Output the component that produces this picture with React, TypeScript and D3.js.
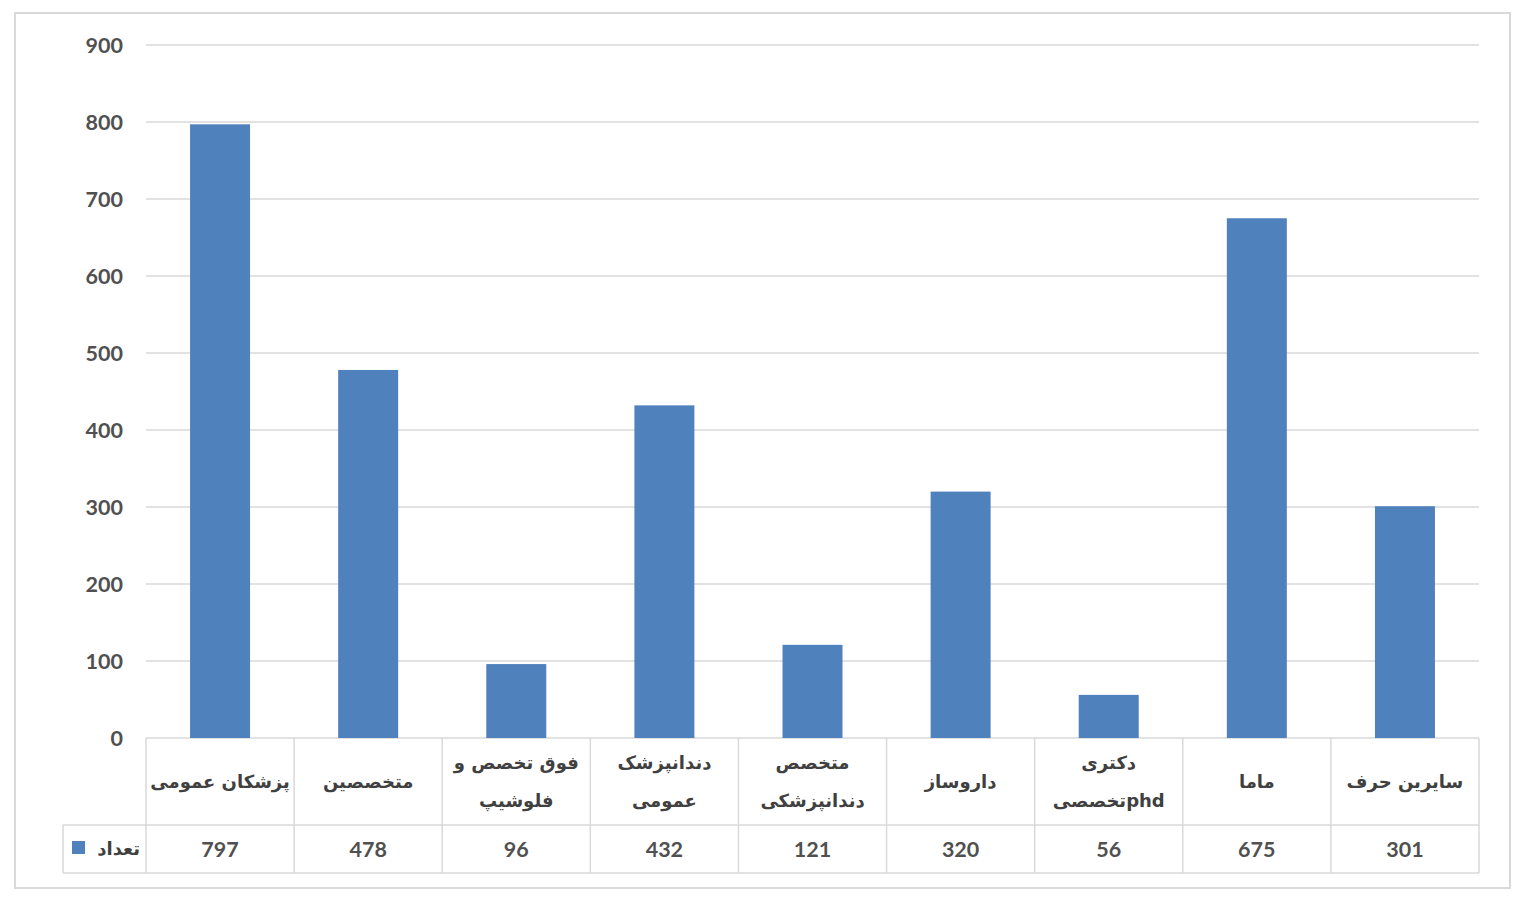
import { useRef, useEffect } from "react";
import * as d3 from "d3";

const categories = [
  "پزشکان عمومی",
  "متخصصین",
  "فوق تخصص و|فلوشیپ",
  "دندانپزشک|عمومی",
  "متخصص|دندانپزشکی",
  "داروساز",
  "دکتری|phdتخصصی",
  "ماما",
  "سایرین حرف",
];
const values = [797, 478, 96, 432, 121, 320, 56, 675, 301];
const yTicks = [0, 100, 200, 300, 400, 500, 600, 700, 800, 900];
const seriesName = "تعداد";

export default function App() {
  const ref = useRef<SVGSVGElement | null>(null);

  useEffect(() => {
    const svg = d3.select(ref.current);
    svg.selectAll("*").remove();

    const width = 1521;
    const height = 903;
    const plot = { left: 146, right: 1479, top: 45, bottom: 738 };
    const labelRowBottom = 825;
    const tableBottom = 873;
    const legendLeft = 63;
    const gridColor = "#d9d9d9";
    const textColor = "#505050";
    const barColor = "#4f81bd";
    const font = "Lato, 'DejaVu Sans', sans-serif";

    svg.append("rect").attr("width", width).attr("height", height).attr("fill", "#fff");

    // outer border
    svg
      .append("rect")
      .attr("x", 15)
      .attr("y", 13)
      .attr("width", 1495)
      .attr("height", 875)
      .attr("fill", "none")
      .attr("stroke", gridColor)
      .attr("stroke-width", 2);

    const x = d3
      .scaleBand<string>()
      .domain(categories)
      .range([plot.left, plot.right])
      .padding(0);

    const y = d3
      .scaleLinear()
      .domain([0, 900])
      .range([plot.bottom, plot.top]);

    // gridlines
    svg
      .append("g")
      .selectAll("line")
      .data(yTicks)
      .join("line")
      .attr("x1", plot.left)
      .attr("x2", plot.right)
      .attr("y1", (d) => y(d))
      .attr("y2", (d) => y(d))
      .attr("stroke", gridColor)
      .attr("stroke-width", 1.5);

    // y tick labels
    svg
      .append("g")
      .selectAll("text")
      .data(yTicks)
      .join("text")
      .attr("x", 123)
      .attr("y", (d) => y(d))
      .attr("dy", "0.35em")
      .attr("text-anchor", "end")
      .attr("font-family", font)
      .attr("font-weight", "bold")
      .attr("font-size", 21.5)
      .attr("fill", textColor)
      .text((d) => d);

    // bars
    const bw = x.bandwidth();
    const barW = bw * 0.405;
    svg
      .append("g")
      .selectAll("rect")
      .data(values)
      .join("rect")
      .attr("x", (_, i) => x(categories[i])! + (bw - barW) / 2)
      .attr("y", (d) => y(d))
      .attr("width", barW)
      .attr("height", (d) => y(0) - y(d))
      .attr("fill", barColor);

    // data table grid
    const table = svg.append("g").attr("stroke", gridColor).attr("stroke-width", 1.5);
    table
      .append("line")
      .attr("x1", legendLeft)
      .attr("x2", plot.right)
      .attr("y1", labelRowBottom)
      .attr("y2", labelRowBottom);
    table
      .append("line")
      .attr("x1", legendLeft)
      .attr("x2", plot.right)
      .attr("y1", tableBottom)
      .attr("y2", tableBottom);
    table
      .append("line")
      .attr("x1", legendLeft)
      .attr("x2", legendLeft)
      .attr("y1", labelRowBottom)
      .attr("y2", tableBottom);
    const edges = [...categories.map((c) => x(c)!), plot.right];
    table
      .selectAll("line.v")
      .data(edges)
      .join("line")
      .attr("class", "v")
      .attr("x1", (d) => d)
      .attr("x2", (d) => d)
      .attr("y1", plot.bottom)
      .attr("y2", tableBottom);

    // category labels
    const labelMid = (plot.bottom + labelRowBottom) / 2;
    const lab = svg
      .append("g")
      .selectAll("text")
      .data(categories)
      .join("text")
      .attr("x", (d) => x(d)! + bw / 2)
      .attr("text-anchor", "middle")
      .attr("direction", "rtl")
      .attr("font-family", "'DejaVu Sans', sans-serif")
      .attr("font-weight", "bold")
      .attr("font-size", 18)
      .attr("fill", "#404040");
    lab.each(function (d) {
      const lines = d.split("|");
      const t = d3.select(this);
      const cx = x(d)! + bw / 2;
      lines.forEach((ln, j) => {
        t.append("tspan")
          .attr("x", cx)
          .attr("y", labelMid + (j - (lines.length - 1) / 2) * 38)
          .attr("dy", "0.35em")
          .text(ln);
      });
    });

    // values row
    const valMid = (labelRowBottom + tableBottom) / 2;
    svg
      .append("g")
      .selectAll("text")
      .data(values)
      .join("text")
      .attr("x", (_, i) => x(categories[i])! + bw / 2)
      .attr("y", valMid)
      .attr("dy", "0.35em")
      .attr("text-anchor", "middle")
      .attr("font-family", font)
      .attr("font-weight", "bold")
      .attr("font-size", 21.5)
      .attr("fill", textColor)
      .text((d) => d);

    // legend key
    svg
      .append("rect")
      .attr("x", 72)
      .attr("y", valMid - 8)
      .attr("width", 13)
      .attr("height", 13)
      .attr("fill", barColor);
    svg
      .append("text")
      .attr("x", 140)
      .attr("y", valMid)
      .attr("dy", "0.35em")
      .attr("text-anchor", "start")
      .attr("direction", "rtl")
      .attr("font-family", "'DejaVu Sans', sans-serif")
      .attr("font-weight", "bold")
      .attr("font-size", 18)
      .attr("fill", "#404040")
      .text(seriesName);
  }, []);

  return (
    <div style={{ position: "absolute", left: 0, top: 0 }}>
      <svg ref={ref} width={1521} height={903} style={{ display: "block" }}></svg>
    </div>
  );
}
